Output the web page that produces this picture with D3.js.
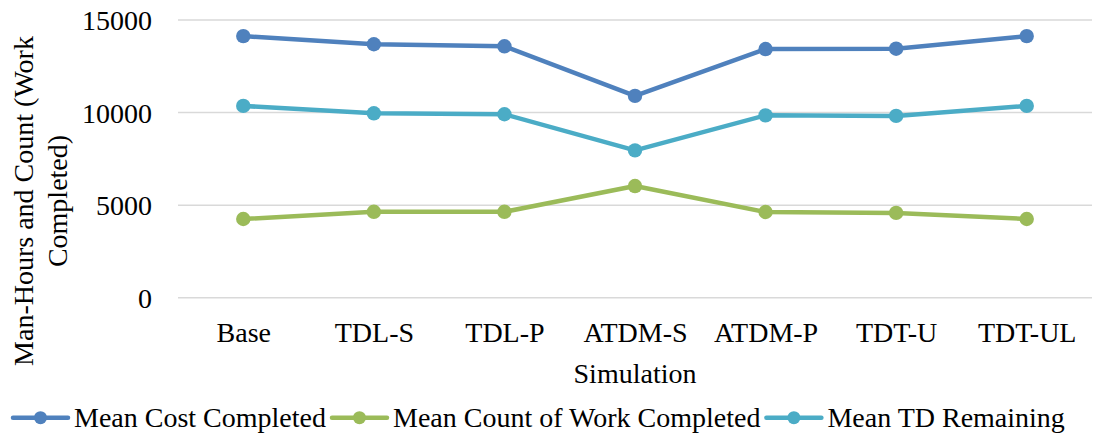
<!DOCTYPE html>
<html>
<head>
<meta charset="utf-8">
<script src="https://cdn.jsdelivr.net/npm/d3@7"></script>
<style>
  body { margin: 0; background: #fff; }
  svg text { font-family: "Liberation Serif"; fill: #000; }
</style>
</head>
<body>
<svg id="chart"></svg>
<script>
const simulations = ['Base', 'TDL-S', 'TDL-P', 'ATDM-S', 'ATDM-P', 'TDT-U', 'TDT-UL'];
const meanCostCompleted = [14130, 13690, 13580, 10900, 13430, 13450, 14130];
const meanCountWorkCompleted = [4250, 4640, 4640, 6030, 4630, 4580, 4250];
const meanTdRemaining = [10360, 9960, 9910, 7960, 9850, 9820, 10360];
const yTicks = [0, 5000, 10000, 15000];
const seriesNames = ['Mean Cost Completed', 'Mean Count of Work Completed', 'Mean TD Remaining'];
const seriesColors = ['#4F81BD', '#9BBB59', '#4BACC6'];

const series = [meanCostCompleted, meanCountWorkCompleted, meanTdRemaining].map((values, i) => ({
  name: seriesNames[i],
  color: seriesColors[i],
  values: values
}));

const width = 1110, height = 436;
const plot = {left: 178, right: 1092, top: 20, bottom: 297.7};
const fontSize = 28;

const svg = d3.select('#chart')
  .attr('width', width)
  .attr('height', height);

const x = d3.scalePoint()
  .domain(simulations)
  .range([plot.left, plot.right])
  .padding(0.5);

const y = d3.scaleLinear()
  .domain([0, 15000])
  .range([plot.bottom, plot.top]);

// gridlines
svg.append('g')
  .selectAll('line')
  .data(yTicks)
  .enter()
  .append('line')
  .attr('x1', plot.left)
  .attr('x2', plot.right)
  .attr('y1', d => y(d))
  .attr('y2', d => y(d))
  .attr('stroke', '#D9D9D9')
  .attr('stroke-width', 1.5);

// y axis labels
const yAxis = d3.axisLeft(y).tickValues(yTicks).tickSize(0).tickPadding(0).tickFormat(d3.format('d'));
svg.append('g')
  .attr('transform', 'translate(152,0)')
  .call(yAxis)
  .attr('font-family', null)
  .attr('font-size', null)
  .call(g => g.select('.domain').remove())
  .selectAll('text')
  .style('font-size', fontSize + 'px')
  .attr('dy', '0.34em');

// x axis labels
const xAxis = d3.axisBottom(x).tickSize(0).tickPadding(0);
svg.append('g')
  .attr('transform', 'translate(0,341.7)')
  .call(xAxis)
  .attr('font-family', null)
  .attr('font-size', null)
  .call(g => g.select('.domain').remove())
  .selectAll('text')
  .style('font-size', fontSize + 'px')
  .attr('dy', 0);

// axis titles
svg.append('text')
  .attr('x', (plot.left + plot.right) / 2)
  .attr('y', 383)
  .attr('text-anchor', 'middle')
  .style('font-size', fontSize + 'px')
  .text('Simulation');

const yTitle = svg.append('text')
  .attr('transform', 'translate(0,201) rotate(-90)')
  .attr('text-anchor', 'middle')
  .style('font-size', fontSize + 'px');
yTitle.append('tspan').attr('x', 0).attr('y', 33).text('Man-Hours and Count (Work');
yTitle.append('tspan').attr('x', 0).attr('y', 66.7).text('Completed)');

// lines
const line = d3.line()
  .x((d, i) => x(simulations[i]))
  .y(d => y(d));

const seriesGroups = svg.selectAll('.series')
  .data(series)
  .enter()
  .append('g')
  .attr('class', 'series');

seriesGroups.append('path')
  .attr('d', d => line(d.values))
  .attr('fill', 'none')
  .attr('stroke', d => d.color)
  .attr('stroke-width', 4.5)
  .attr('stroke-linejoin', 'round');

seriesGroups.selectAll('circle')
  .data(d => d.values.map(v => ({v: v, color: d.color})))
  .enter()
  .append('circle')
  .attr('cx', (d, i) => x(simulations[i]))
  .attr('cy', d => y(d.v))
  .attr('r', 7.2)
  .attr('fill', d => d.color);

// legend
const legendY = 417.7;
const legend = svg.append('g');
let cursor = 13;
series.forEach(s => {
  const item = legend.append('g').attr('transform', `translate(${cursor},${legendY})`);
  item.append('line')
    .attr('x1', 0).attr('x2', 55)
    .attr('y1', 0).attr('y2', 0)
    .attr('stroke', s.color)
    .attr('stroke-width', 4.5)
    .attr('stroke-linecap', 'round');
  item.append('circle')
    .attr('cx', 27.5).attr('cy', 0).attr('r', 6.5)
    .attr('fill', s.color);
  const label = item.append('text')
    .attr('x', 61)
    .attr('y', 0)
    .attr('dy', '0.34em')
    .style('font-size', fontSize + 'px')
    .text(s.name);
  cursor += 61 + label.node().getComputedTextLength() + 6;
});
</script>
</body>
</html>
